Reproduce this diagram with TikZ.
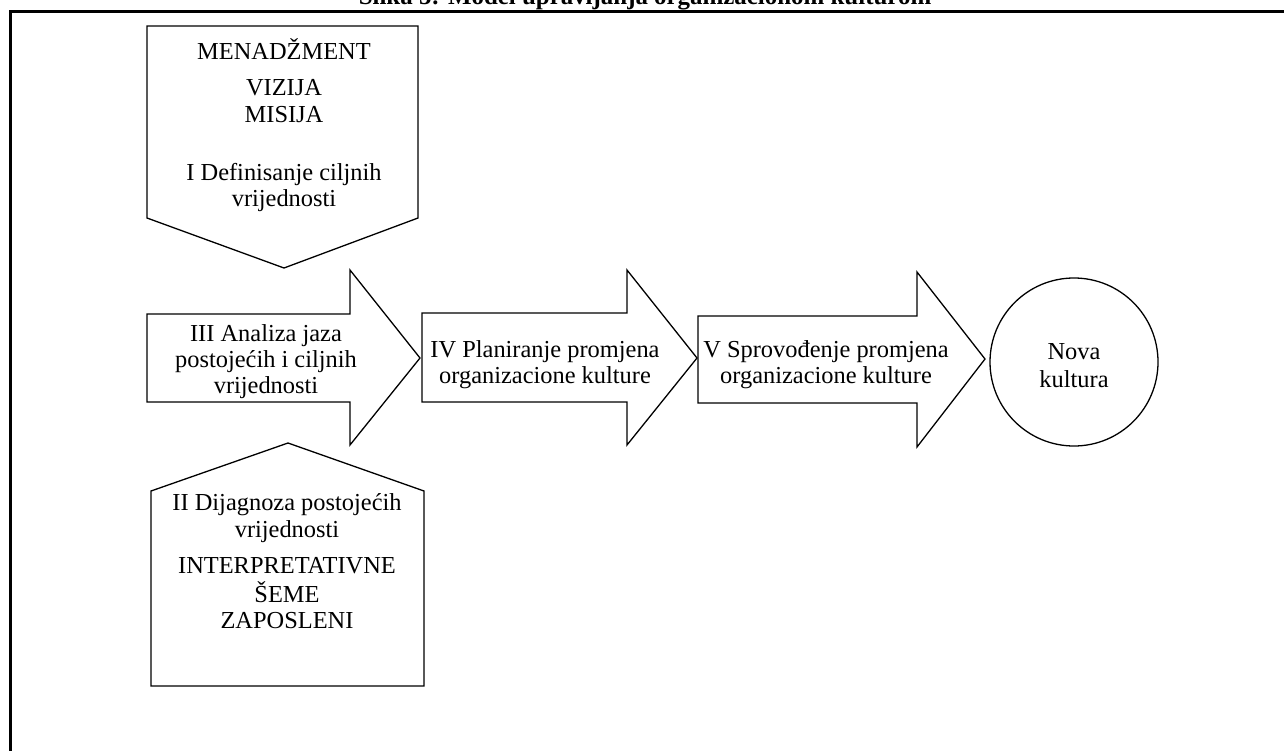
\documentclass[tikz,border=0pt]{standalone}
\usepackage{fontspec}
\setmainfont{Liberation Serif}
\usetikzlibrary{shapes}

\begin{document}
\begin{tikzpicture}[txt/.style={anchor=base,inner sep=0pt,font=\fontsize{24.5}{27}\selectfont},
                    blk/.style={draw,line width=1.3bp,fill=white}]

\useasboundingbox (0bp,0bp) rectangle (1284bp,-751bp);
\clip (0bp,0bp) rectangle (1284bp,-751bp);
\draw [line width=3bp] (10bp,-11bp) rectangle (1330bp,-800bp);
\node (title) at (645bp,-4bp)[anchor=base,inner sep=0pt,font=\bfseries\fontsize{25}{28}\selectfont] {Slika 5: Model upravljanja organizacionom kulturom};

% I -- ciljne vrijednosti
\draw [blk] (147bp,-26bp) -- (418bp,-26bp) -- (418bp,-218bp) -- (284bp,-268bp) -- (147bp,-218bp) -- cycle;
\node (I1) at (284bp,-59bp)[txt] {MENADŽMENT};
\node (I2) at (284bp,-95bp)[txt] {VIZIJA};
\node (I3) at (284bp,-122bp)[txt] {MISIJA};
\node (I4) at (284bp,-180bp)[txt] {I Definisanje ciljnih};
\node (I5) at (284bp,-206bp)[txt] {vrijednosti};

% II -- postojece vrijednosti
\draw [blk] (151bp,-491bp) -- (288bp,-443bp) -- (424bp,-491bp) -- (424bp,-686bp) -- (151bp,-686bp) -- cycle;
\node (II1) at (287bp,-510bp)[txt] {II Dijagnoza postojećih};
\node (II2) at (287bp,-537bp)[txt] {vrijednosti};
\node (II3) at (287bp,-573bp)[txt] {INTERPRETATIVNE};
\node (II4) at (287bp,-602bp)[txt] {ŠEME};
\node (II5) at (287bp,-628bp)[txt] {ZAPOSLENI};

% III -- analiza jaza
\draw [blk] (147bp,-314bp) -- (350bp,-314bp) -- (350bp,-270bp) -- (420bp,-358bp) -- (350bp,-445bp) -- (350bp,-402bp) -- (147bp,-402bp) -- cycle;
\node (III1) at (266bp,-341bp)[txt] {III Analiza jaza};
\node (III2) at (266bp,-367bp)[txt] {postojećih i ciljnih};
\node (III3) at (266bp,-393bp)[txt] {vrijednosti};

% IV -- planiranje
\draw [blk] (422bp,-313bp) -- (627bp,-313bp) -- (627bp,-270bp) -- (697bp,-358bp) -- (627bp,-445bp) -- (627bp,-402bp) -- (422bp,-402bp) -- cycle;
\node (IV1) at (545bp,-357bp)[txt] {IV Planiranje promjena};
\node (IV2) at (545bp,-383bp)[txt] {organizacione kulture};

% V -- sprovodjenje
\draw [blk] (698bp,-316bp) -- (917bp,-316bp) -- (917bp,-272bp) -- (985bp,-359bp) -- (917bp,-447bp) -- (917bp,-403bp) -- (698bp,-403bp) -- cycle;
\node (V1) at (826bp,-357bp)[txt] {V Sprovođenje promjena};
\node (V2) at (826bp,-383bp)[txt] {organizacione kulture};

% nova kultura
\node (nova) at (1074bp,-362bp)[draw,circle,line width=1.3bp,minimum size=168bp,inner sep=0pt] {};
\node (N1) at (1074bp,-359bp)[txt] {Nova};
\node (N2) at (1074bp,-387bp)[txt] {kultura};

\end{tikzpicture}
\end{document}
